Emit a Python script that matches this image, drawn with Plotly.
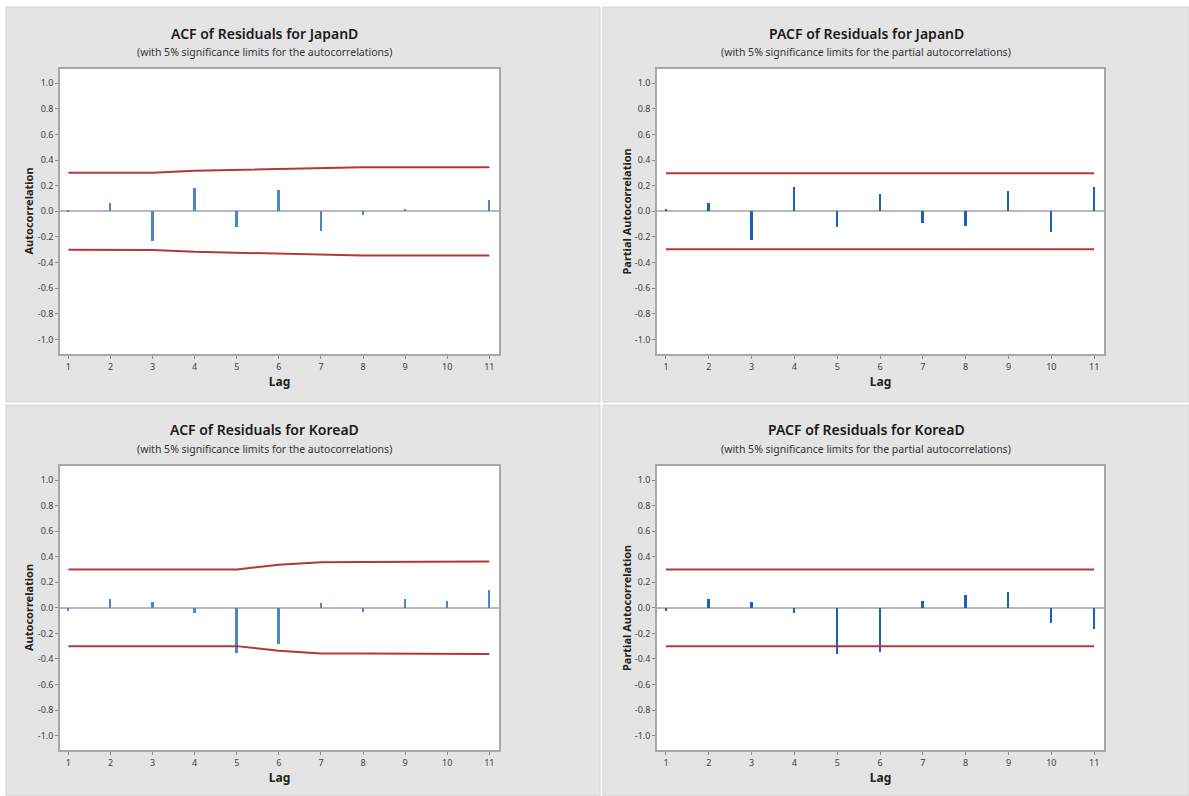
import plotly.graph_objects as go

W, H = 1189, 796

lags = [1, 2, 3, 4, 5, 6, 7, 8, 9, 10, 11]

acf_japan = [0.010, 0.065, -0.232, 0.180, -0.122, 0.169, -0.151, -0.029, 0.018, 0.000, 0.086]
acf_japan_lim = [0.300, 0.300, 0.301, 0.316, 0.324, 0.330, 0.338, 0.344, 0.344, 0.344, 0.344]

pacf_japan = [0.018, 0.068, -0.224, 0.187, -0.120, 0.133, -0.091, -0.112, 0.159, -0.159, 0.187]
pacf_japan_lim = [0.296] * 11

acf_korea = [-0.023, 0.070, 0.044, -0.039, -0.350, -0.287, 0.037, -0.031, 0.070, 0.052, 0.138]
acf_korea_lim = [0.300, 0.300, 0.300, 0.300, 0.300, 0.337, 0.357, 0.358, 0.358, 0.360, 0.362]

pacf_korea = [-0.026, 0.068, 0.042, -0.044, -0.363, -0.345, 0.050, 0.097, 0.125, -0.120, -0.167]
pacf_korea_lim = [0.300] * 11

yticks = [1.0, 0.8, 0.6, 0.4, 0.2, 0.0, -0.2, -0.4, -0.6, -0.8, -1.0]
ytick_text = ["1.0", "0.8", "0.6", "0.4", "0.2", "0.0", "-0.2", "-0.4", "-0.6", "-0.8", "-1.0"]

titles = ["ACF of Residuals for JapanD", "PACF of Residuals for JapanD",
          "ACF of Residuals for KoreaD", "PACF of Residuals for KoreaD"]
subtitles = ["(with 5% significance limits for the autocorrelations)",
             "(with 5% significance limits for the partial autocorrelations)",
             "(with 5% significance limits for the autocorrelations)",
             "(with 5% significance limits for the partial autocorrelations)"]
ytitles = ["Autocorrelation", "Partial Autocorrelation", "Autocorrelation", "Partial Autocorrelation"]

panels = [
    dict(vals=acf_japan, lim=acf_japan_lim, px=(60, 499), py=(69, 354), xr=[0.80, 11.23],
         tx=264, ty=(33, 52), bar="#4a86c8", box=(6, 600, 7, 402), ytx=28),
    dict(vals=pacf_japan, lim=pacf_japan_lim, px=(657, 1104), py=(69, 354), xr=[0.79, 11.23],
         tx=866, ty=(33, 52), bar="#1a62b8", box=(603, 1189, 7, 402), ytx=626),
    dict(vals=acf_korea, lim=acf_korea_lim, px=(60, 499), py=(466, 750), xr=[0.80, 11.23],
         tx=264, ty=(430, 449), bar="#4a86c8", box=(6, 600, 405, 796), ytx=28),
    dict(vals=pacf_korea, lim=pacf_korea_lim, px=(657, 1104), py=(466, 750), xr=[0.79, 11.23],
         tx=866, ty=(430, 449), bar="#1a62b8", box=(603, 1189, 405, 796), ytx=626),
]

fig = go.Figure()
shapes = []
annotations = []
FONT = "Noto Sans"

for i, p in enumerate(panels):
    n = "" if i == 0 else str(i + 1)
    xa, ya = "x" + n, "y" + n
    x0, x1, y0, y1 = p["box"]
    shapes.append(dict(type="rect", xref="paper", yref="paper", x0=x0 / W, x1=x1 / W,
                       y0=1 - y1 / H, y1=1 - y0 / H, fillcolor="#e4e4e4",
                       line=dict(color="#d4d4d4", width=1), layer="below"))
    shapes.append(dict(type="rect", xref="paper", yref="paper", x0=p["px"][0] / W, x1=p["px"][1] / W,
                       y0=1 - p["py"][1] / H, y1=1 - p["py"][0] / H, fillcolor="white",
                       line=dict(width=0), layer="below"))
    fig.add_trace(go.Bar(x=lags, y=p["vals"], width=0.045, marker=dict(color=p["bar"], line=dict(width=0)),
                         xaxis=xa, yaxis=ya, showlegend=False))
    fig.add_trace(go.Scatter(x=lags, y=p["lim"], mode="lines", line=dict(color="#b03a3a", width=2),
                             xaxis=xa, yaxis=ya, showlegend=False))
    fig.add_trace(go.Scatter(x=lags, y=[-v for v in p["lim"]], mode="lines", line=dict(color="#b03a3a", width=2),
                             xaxis=xa, yaxis=ya, showlegend=False))
    xkey = "xaxis" + n
    ykey = "yaxis" + n
    fig.update_layout({
        xkey: dict(domain=[p["px"][0] / W, p["px"][1] / W], range=p["xr"], anchor=ya,
                   tickmode="array", tickvals=lags, ticktext=[str(l) for l in lags],
                   ticks="outside", ticklen=3, tickcolor="#888888", showgrid=False, zeroline=False,
                   showline=True, linecolor="#a8a8a8", linewidth=1.5, mirror=True,
                   tickfont=dict(family=FONT, size=9, color="#404040"),
                   title=dict(text="<b>Lag</b>", font=dict(family=FONT, size=12, color="#222222"), standoff=6)),
        ykey: dict(domain=[1 - p["py"][1] / H, 1 - p["py"][0] / H], range=[-1.113, 1.11], anchor=xa,
                   tickmode="array", tickvals=yticks, ticktext=ytick_text,
                   ticks="outside", ticklen=3, tickcolor="#888888", showgrid=False,
                   zeroline=True, zerolinecolor="#b8b8b8", zerolinewidth=1.5,
                   showline=True, linecolor="#a8a8a8", linewidth=1.5, mirror=True,
                   tickfont=dict(family=FONT, size=9, color="#404040")),
    })
    annotations.append(dict(text="<b>" + ytitles[i] + "</b>", xref="paper", yref="paper",
                            x=p["ytx"] / W, y=1 - (p["py"][0] + p["py"][1]) / 2 / H, textangle=-90,
                            showarrow=False, font=dict(family=FONT, size=11, color="#222222"),
                            xanchor="center", yanchor="middle"))
    annotations.append(dict(text=titles[i], xref="paper", yref="paper", x=p["tx"] / W,
                            y=1 - p["ty"][0] / H, showarrow=False, xanchor="center", yanchor="middle",
                            font=dict(family=FONT, size=14, color="#1a1a1a", weight=600)))
    annotations.append(dict(text=subtitles[i], xref="paper", yref="paper", x=p["tx"] / W,
                            y=1 - p["ty"][1] / H, showarrow=False, xanchor="center", yanchor="middle",
                            font=dict(family=FONT, size=10.5, color="#333333")))

fig.update_layout(width=W, height=H, autosize=False, margin=dict(l=0, r=0, t=0, b=0),
                  paper_bgcolor="white", plot_bgcolor="white", shapes=shapes,
                  annotations=annotations, bargap=0, showlegend=False)

fig.write_html("out.html", config={"displayModeBar": False},
               post_script="document.body.style.margin='0px';")
